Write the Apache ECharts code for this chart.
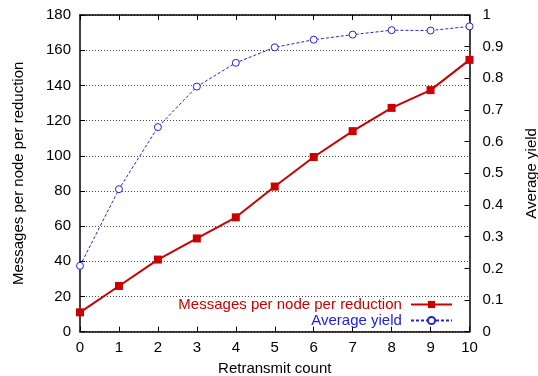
<!DOCTYPE html>
<html><head><meta charset="utf-8">
<script src="https://cdn.jsdelivr.net/npm/echarts@6/dist/echarts.min.js"></script>
<style>html,body{margin:0;padding:0;background:#fff}#c{width:538px;height:376px}</style>
</head><body><div id="c"></div>
<script>
const retransmits = [0,1,2,3,4,5,6,7,8,9,10];
const messages = [11,26,41,53,65,82.5,99.3,114,127.2,137.3,154.5];
const yieldVals = [0.208,0.45,0.646,0.774,0.849,0.898,0.922,0.938,0.952,0.951,0.964];
const leftTicks = [0,20,40,60,80,100,120,140,160,180];
const rightTicks = [0,0.1,0.2,0.3,0.4,0.5,0.6,0.7,0.8,0.9,1];
const nameMsg = 'Messages per node per reduction';
const nameYield = 'Average yield';
const RED = '#cc0000', BLUE = '#2222dd';
const font = 'Liberation Sans';
const chart = echarts.init(document.getElementById('c'), null, {renderer:'canvas'});
const axLine = () => ({show:true, onZero:false, lineStyle:{color:'#000', width:1.5}});
const axTick = () => ({show:true, inside:true, length:5, lineStyle:{color:'#000', width:1}});
chart.setOption({
  animation:false,
  textStyle:{fontFamily:font},
  grid:{left:80, right:68.5, top:15, bottom:44.3, show:false, containLabel:false, outerBoundsMode:'none'},
  legend:{
    orient:'vertical', right:80, top:292, align:'right', itemWidth:41, itemHeight:9, itemGap:1,
    selectedMode:false,
    formatter: n => n + ' ',
    textStyle:{fontSize:15, fontFamily:font, lineHeight:15},
    data:[{name:nameMsg, textStyle:{color:RED}},{name:nameYield, textStyle:{color:BLUE}}]
  },
  xAxis:[{
    type:'value', min:retransmits[0], max:retransmits[retransmits.length-1], interval:1, position:'bottom',
    name:'Retransmit count', nameLocation:'middle', nameGap:30,
    nameTextStyle:{fontSize:15, color:'#000', fontFamily:font},
    axisLine:axLine(), axisTick:axTick(),
    axisLabel:{fontSize:15, color:'#000', margin:9, fontFamily:font},
    splitLine:{show:false}
  },{
    type:'value', min:retransmits[0], max:retransmits[retransmits.length-1], interval:1, position:'top',
    axisLine:axLine(), axisTick:axTick(),
    axisLabel:{show:false}, splitLine:{show:false}
  }],
  yAxis:[{
    type:'value', min:leftTicks[0], max:leftTicks[leftTicks.length-1], interval:20, position:'left',
    name:nameMsg, nameLocation:'middle', nameGap:54, nameRotate:90,
    nameTextStyle:{fontSize:15, color:'#000', fontFamily:font},
    axisLine:axLine(), axisTick:axTick(),
    axisLabel:{fontSize:15, color:'#000', margin:9, fontFamily:font},
    splitLine:{show:true, lineStyle:{color:'#444', width:1, type:[1,2]}}
  },{
    type:'value', min:rightTicks[0], max:rightTicks[rightTicks.length-1], interval:0.1, position:'right',
    name:nameYield, nameLocation:'middle', nameGap:55, nameRotate:90,
    nameTextStyle:{fontSize:15, color:'#000', fontFamily:font},
    axisLine:axLine(), axisTick:axTick(),
    axisLabel:{fontSize:15, color:'#000', margin:13, fontFamily:font, formatter:v=>String(Math.round(v*10)/10)},
    splitLine:{show:false}
  }],
  series:[{
    name:nameMsg, type:'line', xAxisIndex:0, yAxisIndex:0,
    data: retransmits.map((x,i)=>[x, messages[i]]),
    symbol:'rect', symbolSize:8,
    lineStyle:{color:RED, width:2}, itemStyle:{color:RED}, z:3
  },{
    name:nameYield, type:'line', xAxisIndex:0, yAxisIndex:1,
    data: retransmits.map((x,i)=>[x, yieldVals[i]]),
    symbol:'circle', symbolSize:7, showAllSymbol:true,
    lineStyle:{color:BLUE, width:1, type:[3,2]},
    itemStyle:{color:'#fff', borderColor:BLUE, borderWidth:1}, z:2
  }]
});
</script></body></html>
